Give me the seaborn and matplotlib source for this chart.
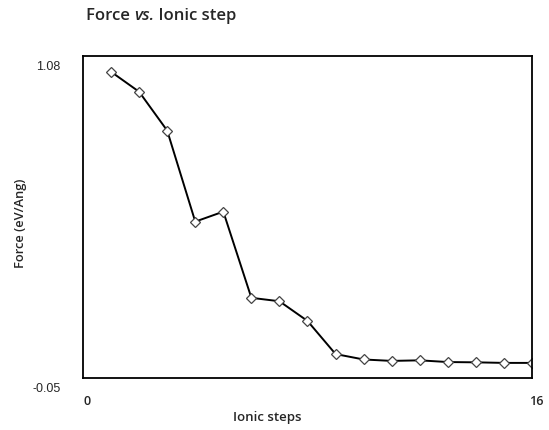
import matplotlib
matplotlib.use("Agg")
import matplotlib.pyplot as plt
import matplotlib.transforms as mtransforms
import pandas as pd
import seaborn as sns

# values
ionic_step = [1, 2, 3, 4, 5, 6, 7, 8, 9, 10, 11, 12, 13, 14, 15, 16]
force = [1.024, 0.954, 0.818, 0.499, 0.534, 0.232, 0.220, 0.151, 0.035, 0.016,
         0.011, 0.013, 0.007, 0.006, 0.004, 0.004]
x_ticks = [0, 16]
y_ticks = [-0.05, 1.08]
title_parts = [("Force ", "normal"), ("vs.", "italic"), (" Ionic step", "normal")]

df = pd.DataFrame({"step": ionic_step, "force": force})

sns.set_theme(style="white")
plt.rcParams["font.family"] = ["Open Sans", "DejaVu Sans"]

fig = plt.figure(figsize=(5.49, 4.30), dpi=100)
ax = fig.add_axes([0.1512, 0.1202, 0.8178, 0.7500])

sns.lineplot(data=df, x="step", y="force", ax=ax, color="black", linewidth=1.4,
             marker="D", markersize=5, markerfacecolor="white",
             markeredgecolor="#444444", markeredgewidth=0.9)

ax.set_xlim(0, 16)
ax.set_ylim(-0.05, 1.08)
ax.set_xticks(x_ticks)
ax.set_xticklabels(["0", "16"])
ax.set_yticks(y_ticks)
ax.set_yticklabels(["-0.05", "1.08"])

for side in ["left", "right", "top", "bottom"]:
    ax.spines[side].set_visible(True)
    ax.spines[side].set_color("black")
    ax.spines[side].set_linewidth(1.3)

ax.tick_params(axis="both", direction="inout", length=6, width=1.2, color="black")
ax.tick_params(axis="y", pad=13, labelsize=9)
ax.tick_params(axis="x", pad=9, labelsize=9)
for lab in ax.get_yticklabels():
    lab.set_family(["Liberation Sans", "DejaVu Sans"])
    lab.set_transform(lab.get_transform() + mtransforms.ScaledTranslation(0, -0.095, fig.dpi_scale_trans))
for lab in ax.get_xticklabels():
    lab.set_fontweight("semibold")
    lab.set_transform(lab.get_transform() + mtransforms.ScaledTranslation(0.045, 0, fig.dpi_scale_trans))

ax.set_xlabel("Ionic steps", fontsize=9.5, fontweight="semibold")
ax.xaxis.label.set_va("center")
ax.xaxis.set_label_coords(0.41, -0.120)
ax.set_ylabel("Force (eV/Ang)", fontsize=9.3, fontweight="semibold")
ax.yaxis.label.set_va("center")
ax.yaxis.set_label_coords(-0.140, 0.482)

# title in pieces so that only "vs." is italic
renderer = fig.canvas.get_renderer()
x_px = 86
for txt, style in title_parts:
    t = fig.text(x_px / 549, 0.962, txt, fontsize=12, fontstyle=style,
                 fontweight="semibold", ha="left", va="center")
    x_px = t.get_window_extent(renderer).x1

fig.savefig("out.png", dpi=100)
